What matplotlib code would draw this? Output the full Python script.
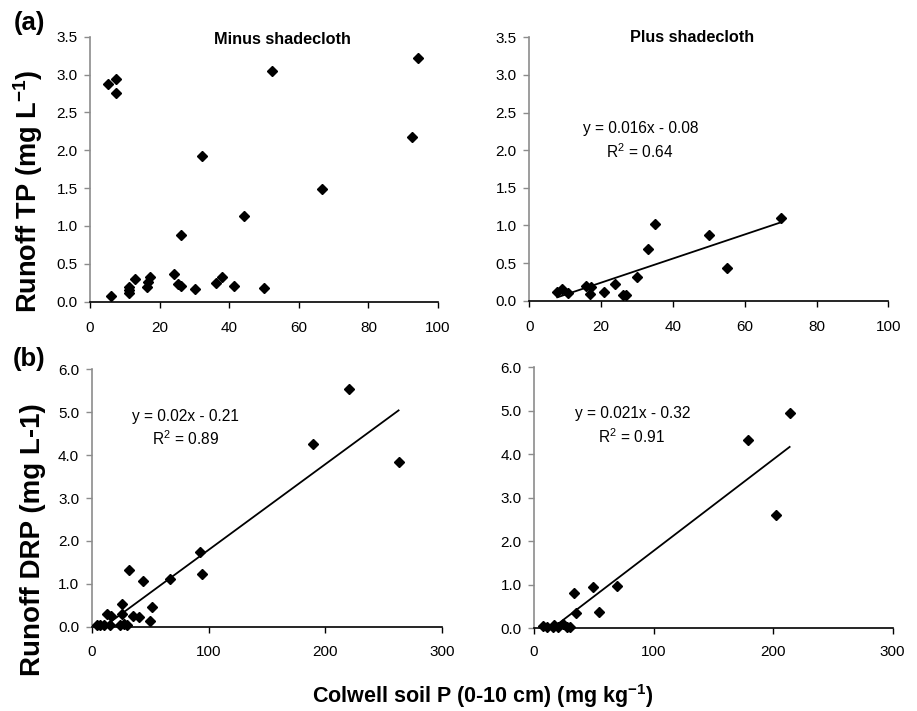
"""Runoff P vs Colwell soil P — four-panel scatter (minus / plus shadecloth).

Rows: (a) runoff TP, (b) runoff DRP. Columns: minus / plus shadecloth.
Values read off the published figure.
"""

import matplotlib

matplotlib.use("Agg")
import matplotlib.pyplot as plt

plt.rcParams["font.family"] = ["Liberation Sans", "DejaVu Sans"]
plt.rcParams["mathtext.fontset"] = "custom"
plt.rcParams["mathtext.rm"] = "Liberation Sans"
plt.rcParams["mathtext.bf"] = "Liberation Sans:bold"

# ---------------------------------------------------------------------------
# Data
# ---------------------------------------------------------------------------

# (a) runoff TP (mg/L) vs Colwell P (mg/kg), minus shadecloth
tp_minus_x = [5.1, 7.4, 7.4, 52.4, 94.2, 92.4, 32.1, 66.8, 44.2, 26.1, 6.0,
              11.2, 11.2, 11.2, 12.9, 16.4, 16.8, 17.3, 24.0, 25.4, 26.1,
              30.2, 36.1, 37.8, 41.3, 49.9]
tp_minus_y = [2.88, 2.94, 2.75, 3.05, 3.22, 2.17, 1.92, 1.49, 1.13, 0.88, 0.07,
              0.19, 0.15, 0.12, 0.30, 0.20, 0.26, 0.32, 0.37, 0.24, 0.21,
              0.17, 0.25, 0.33, 0.21, 0.18]

# (a) plus shadecloth
tp_plus_x = [7.8, 9.0, 10.9, 15.8, 17.1, 16.9, 20.8, 23.9, 26.0, 26.9,
             29.9, 33.1, 34.9, 50.1, 55.2, 70.1]
tp_plus_y = [0.12, 0.15, 0.10, 0.20, 0.18, 0.09, 0.12, 0.22, 0.08, 0.07,
             0.31, 0.69, 1.02, 0.87, 0.44, 1.10]
tp_plus_fit = (0.016, -0.08, 0.64)   # slope, intercept, R2

# (b) runoff DRP, minus shadecloth
drp_minus_x = [220.4, 189.0, 262.6, 92.4, 94.1, 67.0, 31.9, 44.2, 51.6, 50.2,
               26.2, 25.7, 35.6, 40.5, 12.8, 16.5, 4.6, 6.8, 10.8, 15.7,
               24.5, 27.4, 29.9]
drp_minus_y = [5.54, 4.27, 3.84, 1.73, 1.23, 1.11, 1.32, 1.06, 0.47, 0.14,
               0.53, 0.30, 0.26, 0.22, 0.30, 0.26, 0.03, 0.03, 0.03, 0.03,
               0.05, 0.06, 0.03]
drp_minus_fit = (0.02, -0.21, 0.89)

# (b) plus shadecloth
drp_plus_x = [213.8, 178.7, 202.1, 69.1, 49.6, 33.2, 34.8, 54.4, 7.8, 10.6,
              16.2, 17.0, 20.4, 24.0, 27.3, 30.1]
drp_plus_y = [4.96, 4.32, 2.61, 0.97, 0.95, 0.81, 0.35, 0.38, 0.05, 0.02,
              0.02, 0.08, 0.02, 0.09, 0.02, 0.02]
drp_plus_fit = (0.021, -0.32, 0.91)

titles = ["Minus shadecloth", "Plus shadecloth"]
tp_yticks = [0.0, 0.5, 1.0, 1.5, 2.0, 2.5, 3.0, 3.5]
drp_yticks = [0.0, 1.0, 2.0, 3.0, 4.0, 5.0, 6.0]
tp_xticks = [0, 20, 40, 60, 80, 100]
drp_xticks = [0, 100, 200, 300]

# ---------------------------------------------------------------------------
# Layout (figure fractions, 917 x 711 px)
# ---------------------------------------------------------------------------

W, H = 917, 711


def _rect(left, top, right, bottom):
    return [left / W, 1 - bottom / H, (right - left) / W, (bottom - top) / H]


fig = plt.figure(figsize=(W / 100, H / 100), dpi=100)
ax_tl = fig.add_axes(_rect(90, 36.7, 438, 301.7))
ax_tr = fig.add_axes(_rect(529.3, 37.3, 888.3, 300.7))
ax_bl = fig.add_axes(_rect(91.7, 369.3, 442.3, 626.7))
ax_br = fig.add_axes(_rect(534, 367.3, 892.7, 628.3))


def _style(ax, xticks, yticks, ylim, xpad):
    ax.set_xlim(xticks[0], xticks[-1])
    ax.set_ylim(*ylim)
    ax.set_xticks(xticks)
    ax.set_yticks(yticks)
    ax.set_yticklabels([f"{t:.1f}" for t in yticks])
    for s in ("top", "right"):
        ax.spines[s].set_visible(False)
    ax.spines["left"].set_color("#8c8c8c")
    ax.spines["left"].set_linewidth(1.2)
    ax.spines["bottom"].set_color("black")
    ax.spines["bottom"].set_linewidth(1.2)
    ax.tick_params(axis="y", direction="out", length=4, width=1,
                   color="#8c8c8c", labelsize=11, pad=5)
    ax.tick_params(axis="x", direction="out", length=4, width=1,
                   color="black", labelsize=11, pad=xpad)
    ax.patch.set_visible(False)


def _scatter(ax, x, y):
    ax.plot(x, y, linestyle="none", marker="D", markersize=5.6,
            color="black", clip_on=False, zorder=3)


def _fit(ax, x, fit, tx, ty, r_tx, r_ty):
    slope, icpt, r2 = fit
    xs = [min(x), max(x)]
    ax.plot(xs, [slope * v + icpt for v in xs], color="black", lw=1.3)
    sign = "-" if icpt < 0 else "+"
    ax.text(tx, ty, f"y = {slope:g}x {sign} {abs(icpt):g}",
            ha="center", va="center", fontsize=11.2)
    ax.text(r_tx, r_ty, f"R$^2$ = {r2:.2f}",
            ha="center", va="center", fontsize=11.2)


_scatter(ax_tl, tp_minus_x, tp_minus_y)
_style(ax_tl, tp_xticks, tp_yticks, (0, 3.5), 10)

_scatter(ax_tr, tp_plus_x, tp_plus_y)
_fit(ax_tr, tp_plus_x, tp_plus_fit, 31.1, 2.29, 30.6, 1.98)
_style(ax_tr, tp_xticks, tp_yticks, (0, 3.5), 10)

_scatter(ax_bl, drp_minus_x, drp_minus_y)
_fit(ax_bl, drp_minus_x, drp_minus_fit, 80.5, 4.91, 80.0, 4.39)
_style(ax_bl, drp_xticks, drp_yticks, (0, 6), 9)

_scatter(ax_br, drp_plus_x, drp_plus_y)
_fit(ax_br, drp_plus_x, drp_plus_fit, 82.8, 4.94, 81.2, 4.40)
_style(ax_br, drp_xticks, drp_yticks, (0, 6), 8)

# panel titles
fig.text(282.5 / W, 1 - 40 / H, titles[0], ha="center", va="center",
         fontsize=11.7, fontweight="bold")
fig.text(692 / W, 1 - 38 / H, titles[1], ha="center", va="center",
         fontsize=11.7, fontweight="bold")

# row letters and axis labels
fig.text(29 / W, 1 - 23 / H, "(a)", ha="center", va="center",
         fontsize=18.5, fontweight="bold")
fig.text(29 / W, 1 - 359 / H, "(b)", ha="center", va="center",
         fontsize=18.5, fontweight="bold")
fig.text(28.5 / W, 1 - 191 / H, r"Runoff TP (mg L$^{\mathbf{-1}}$)",
         rotation=90, ha="center", va="center", fontsize=19.5, fontweight="bold")
fig.text(32.7 / W, 1 - 540 / H, "Runoff DRP (mg L-1)",
         rotation=90, ha="center", va="center", fontsize=20, fontweight="bold")
fig.text(483 / W, 1 - 696 / H, r"Colwell soil P (0-10 cm) (mg kg$^{\mathbf{-1}}$)",
         ha="center", va="center", fontsize=15.5, fontweight="bold")

fig.savefig("out.png", dpi=100)
